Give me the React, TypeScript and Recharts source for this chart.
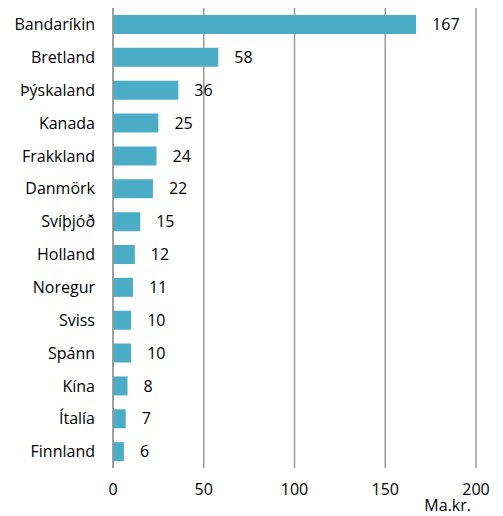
import { Bar, BarChart, CartesianGrid, LabelList, XAxis, YAxis } from "recharts"

const countries = [
  "Bandaríkin",
  "Bretland",
  "Þýskaland",
  "Kanada",
  "Frakkland",
  "Danmörk",
  "Svíþjóð",
  "Holland",
  "Noregur",
  "Sviss",
  "Spánn",
  "Kína",
  "Ítalía",
  "Finnland",
]
const values = [167, 58, 36, 25, 24, 22, 15, 12, 11, 10, 10, 8, 7, 6]
const xTicks = [0, 50, 100, 150, 200]

const data = countries.map((name, i) => ({ name, value: values[i] }))

const font = "'Open Sans', Lato, sans-serif"

export default function App() {
  return (
    <div style={{ position: "fixed", left: 0, top: 0, width: 503, height: 516, background: "#fff" }}>
      <BarChart
        width={503}
        height={516}
        data={data}
        layout="vertical"
        margin={{ top: 8, right: 27, left: 0, bottom: 0 }}
        style={{ fontFamily: font }}
      >
        <CartesianGrid horizontal={false} stroke="#999" strokeWidth={1.5} />
        <XAxis
          type="number"
          domain={[0, 200]}
          ticks={xTicks}
          height={48}
          axisLine={false}
          tickLine={false}
          tickSize={0}
          tickMargin={16}
          tick={{ fill: "#000", fontSize: 16 }}
          label={{ value: "Ma.kr.", position: "insideBottomRight", offset: 5, fill: "#000", fontSize: 16 }}
        />
        <YAxis
          type="category"
          dataKey="name"
          width={113}
          axisLine={{ stroke: "#999", strokeWidth: 1.5 }}
          tickLine={false}
          tickSize={0}
          tickMargin={18}
          tick={{ fill: "#000", fontSize: 16 }}
        />
        <Bar dataKey="value" fill="#4BACC6" barSize={19} isAnimationActive={false}>
          <LabelList dataKey="value" position="right" offset={16} fill="#000" fontSize={16} />
        </Bar>
      </BarChart>
    </div>
  )
}
